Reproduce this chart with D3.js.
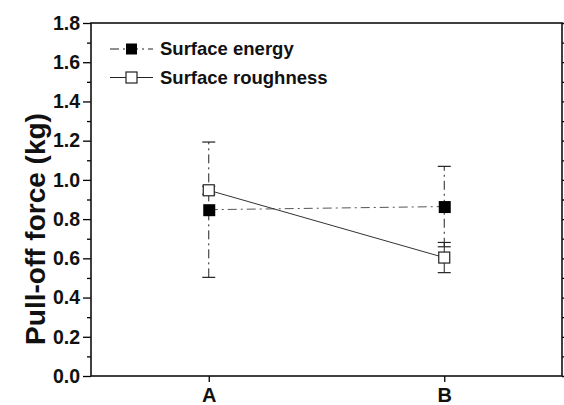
<!DOCTYPE html>
<html>
<head>
<meta charset="utf-8">
<script src="https://d3js.org/d3.v7.min.js"></script>
<style>
  body { margin: 0; background: #fff; }
  text { font-family: Arial, "Liberation Sans", sans-serif; font-weight: bold; }
</style>
</head>
<body>
<script>
// data
var categories = ["A", "B"];
var energyMean = [0.848, 0.864];
var energyErr = [0.345, 0.205];
var roughMean = [0.947, 0.604];
var roughErr = [0.02, 0.077];
var yTicks = [0.0, 0.2, 0.4, 0.6, 0.8, 1.0, 1.2, 1.4, 1.6, 1.8];

var W = 564, H = 405;
var plotL = 91, plotR = 562, plotT = 23, plotB = 376;

var svg = d3.select("body").append("svg")
    .attr("width", W)
    .attr("height", H);

var x = d3.scaleLinear().domain([0.5, 2.5]).range([plotL, plotR]);
var y = d3.scaleLinear().domain([0, 1.8]).range([plotB, plotT]);
var xc = function(i) { return x(i + 1); };

// minor ticks (every 0.1)
var minor = d3.range(0, 19).map(function(d) { return d / 10; }).filter(function(d) { return Math.round(d * 10) % 2 == 1; });

// left axis
svg.append("g")
    .attr("transform", "translate(" + plotL + ",0)")
    .call(d3.axisLeft(y).tickValues(minor).tickSize(4).tickFormat(""))
    .call(function(g) { g.select(".domain").remove(); g.selectAll("line").attr("stroke-width", 1.3); });
svg.append("g")
    .attr("transform", "translate(" + plotL + ",0)")
    .call(d3.axisLeft(y).tickValues(yTicks).tickSize(8).tickPadding(3).tickFormat(d3.format(".1f")))
    .call(function(g) {
      g.select(".domain").remove();
      g.selectAll("line").attr("stroke-width", 1.3);
      g.selectAll("text").attr("font-size", 19.5).attr("font-family", "Arial, 'Liberation Sans', sans-serif")
        .attr("font-weight", "bold").attr("fill", "#111");
    });

// right axis, ticks inward
svg.append("g")
    .attr("transform", "translate(" + plotR + ",0)")
    .call(d3.axisLeft(y).tickValues(minor).tickSize(-4).tickFormat(""))
    .call(function(g) { g.select(".domain").remove(); g.selectAll("line").attr("stroke-width", 1.3); });
svg.append("g")
    .attr("transform", "translate(" + plotR + ",0)")
    .call(d3.axisLeft(y).tickValues(yTicks).tickSize(-8).tickFormat(""))
    .call(function(g) { g.select(".domain").remove(); g.selectAll("line").attr("stroke-width", 1.3); });

// bottom axis
svg.append("g")
    .attr("transform", "translate(0," + plotB + ")")
    .call(d3.axisBottom(x).tickValues([1, 2]).tickSize(6).tickPadding(6)
      .tickFormat(function(d) { return categories[d - 1]; }))
    .call(function(g) {
      g.select(".domain").remove();
      g.selectAll("line").attr("stroke-width", 1.3);
      g.selectAll("text").attr("font-size", 20).attr("font-family", "Arial, 'Liberation Sans', sans-serif")
        .attr("font-weight", "bold").attr("fill", "#111");
    });

// frame
svg.append("rect")
    .attr("x", plotL).attr("y", plotT)
    .attr("width", plotR - plotL).attr("height", plotB - plotT)
    .attr("fill", "none").attr("stroke", "#111").attr("stroke-width", 1.6);

// y label
svg.append("text")
    .attr("transform", "translate(45,229) rotate(-90)")
    .attr("text-anchor", "middle")
    .attr("font-size", 28)
    .attr("fill", "#111")
    .text("Pull-off force (kg)");

var dashDot = "9,4,2,4";

function errorBars(mean, err, dash) {
  var g = svg.append("g");
  mean.forEach(function(m, i) {
    var cx = xc(i);
    g.append("line")
      .attr("x1", cx).attr("x2", cx)
      .attr("y1", y(m - err[i])).attr("y2", y(m + err[i]))
      .attr("stroke", "#222").attr("stroke-width", 1)
      .attr("stroke-dasharray", dash);
    [m - err[i], m + err[i]].forEach(function(v) {
      g.append("line")
        .attr("x1", cx - 6.5).attr("x2", cx + 6.5)
        .attr("y1", y(v)).attr("y2", y(v))
        .attr("stroke", "#222").attr("stroke-width", 1.2);
    });
  });
}

errorBars(energyMean, energyErr, dashDot);
errorBars(roughMean, roughErr, null);

var line = d3.line().x(function(d, i) { return xc(i); }).y(function(d) { return y(d); });

svg.append("path")
    .datum(energyMean)
    .attr("d", line)
    .attr("fill", "none").attr("stroke", "#555").attr("stroke-width", 1)
    .attr("stroke-dasharray", dashDot);
svg.append("path")
    .datum(roughMean)
    .attr("d", line)
    .attr("fill", "none").attr("stroke", "#333").attr("stroke-width", 1);

var sq = 11;
svg.selectAll(".rough").data(roughMean).enter().append("rect")
    .attr("x", function(d, i) { return xc(i) - sq / 2; })
    .attr("y", function(d) { return y(d) - sq / 2; })
    .attr("width", sq).attr("height", sq)
    .attr("fill", "#fff").attr("stroke", "#222").attr("stroke-width", 1.2);
svg.selectAll(".energy").data(energyMean).enter().append("rect")
    .attr("x", function(d, i) { return xc(i) - sq / 2; })
    .attr("y", function(d) { return y(d) - sq / 2; })
    .attr("width", sq + 1).attr("height", sq + 1)
    .attr("fill", "#000");

// legend
var legend = [
  { label: "Surface energy", filled: true, dash: dashDot, y: 49 },
  { label: "Surface roughness", filled: false, dash: null, y: 77.5 }
];
legend.forEach(function(l) {
  svg.append("line")
    .attr("x1", 110).attr("x2", 153)
    .attr("y1", l.y).attr("y2", l.y)
    .attr("stroke", "#222").attr("stroke-width", 1)
    .attr("stroke-dasharray", l.dash);
  svg.append("rect")
    .attr("x", 131.5 - sq / 2).attr("y", l.y - sq / 2)
    .attr("width", sq).attr("height", sq)
    .attr("fill", l.filled ? "#000" : "#fff")
    .attr("stroke", l.filled ? "none" : "#222").attr("stroke-width", 1.2);
  svg.append("text")
    .attr("x", 160).attr("y", l.y + 6)
    .attr("font-size", 18.5)
    .attr("fill", "#111")
    .text(l.label);
});
</script>
</body>
</html>
